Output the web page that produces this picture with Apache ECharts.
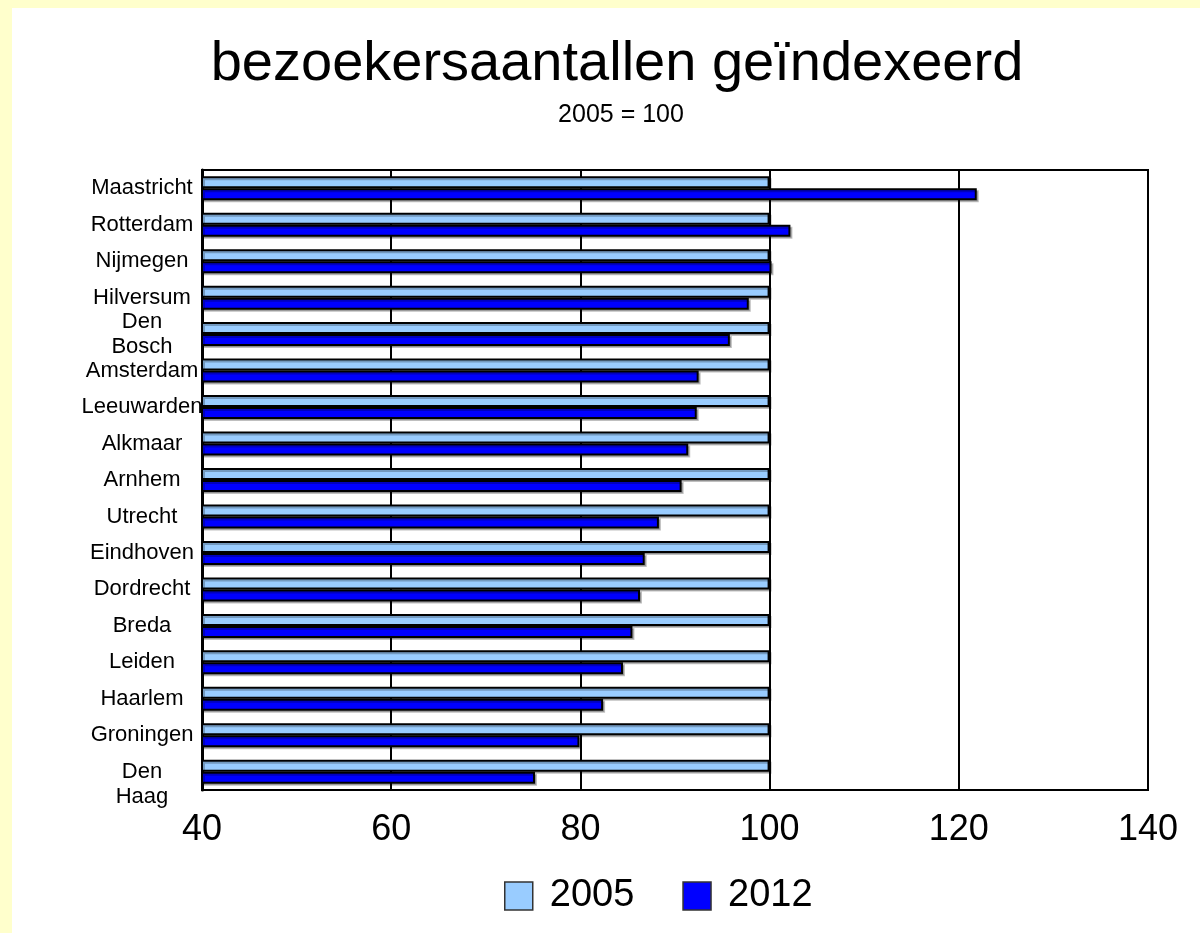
<!DOCTYPE html>
<html>
<head>
<meta charset="utf-8">
<script src="https://cdn.jsdelivr.net/npm/echarts@6/dist/echarts.min.js"></script>
<style>
  html, body { margin: 0; padding: 0; background: #FFFFCC; }
  #chart { position: absolute; left: 12px; top: 8px; width: 1188px; height: 925px; background: #fff; }
</style>
</head>
<body>
<div id="chart"></div>
<script>
// cities, top to bottom
const cities = ['Maastricht', 'Rotterdam', 'Nijmegen', 'Hilversum', 'Den\nBosch', 'Amsterdam', 'Leeuwarden',
  'Alkmaar', 'Arnhem', 'Utrecht', 'Eindhoven', 'Dordrecht', 'Breda', 'Leiden', 'Haarlem', 'Groningen', 'Den\nHaag']
const index2005 = [100, 100, 100, 100, 100, 100, 100, 100, 100, 100, 100, 100, 100, 100, 100, 100, 100]
const index2012 = [121.9, 102.2, 100.2, 97.8, 95.8, 92.5, 92.3, 91.4, 90.7, 88.3, 86.8, 86.3, 85.5, 84.5, 82.4, 79.9, 75.2]
const xTicks = [40, 60, 80, 100, 120, 140]

const font = 'Arial, "Liberation Sans", sans-serif'
const chart = echarts.init(document.getElementById('chart'))

const barStyle = (color) => ({
  color, borderColor: '#000', borderWidth: 2,
  shadowColor: 'rgba(0,0,0,0.25)', shadowOffsetX: 2, shadowOffsetY: 2, shadowBlur: 0
})

chart.setOption({
  animation: false,
  textStyle: { fontFamily: font },
  title: [
    { text: 'bezoekersaantallen geïndexeerd', left: 600, textAlign: 'center', top: 24,
      textStyle: { fontSize: 56, fontWeight: 'normal', color: '#000', fontFamily: font } },
    { text: '2005 = 100', left: 604, textAlign: 'center', top: 90,
      textStyle: { fontSize: 25, fontWeight: 'normal', color: '#000', fontFamily: font } }
  ],
  legend: {
    data: ['2005', '2012'], left: 487, top: 864, itemWidth: 28, itemHeight: 28, itemGap: 48,
    icon: 'rect', textStyle: { fontSize: 38, color: '#000', fontFamily: font, padding: [0, 0, 0, 12] },
    itemStyle: { borderColor: '#333', borderWidth: 1.5, shadowBlur: 0, shadowOffsetX: 0, shadowOffsetY: 0 }
  },
  grid: { left: 190, right: 52, top: 162, bottom: 143, show: true, borderColor: '#000', borderWidth: 2, backgroundColor: '#fff' },
  xAxis: {
    type: 'value', min: xTicks[0], max: xTicks[xTicks.length - 1], interval: 20,
    axisLine: { show: true, lineStyle: { color: '#000', width: 2 } },
    axisTick: { show: false },
    axisLabel: { color: '#000', fontSize: 36, margin: 22, fontFamily: font },
    splitLine: { show: true, lineStyle: { color: '#000', width: 2 } }
  },
  yAxis: {
    type: 'category', data: cities, inverse: true,
    axisLine: { show: true, lineStyle: { color: '#000', width: 3 } },
    axisTick: { show: false },
    axisLabel: {
      interval: 0, color: '#000', fontSize: 22, lineHeight: 25, align: 'center', margin: 60, fontFamily: font,
      // the last label hangs below its row in the original
      formatter: (v, i) => i === cities.length - 1 ? '\n' + v : v
    }
  },
  series: [
    { name: '2005', type: 'bar', data: index2005, barWidth: 12, barGap: '0%', itemStyle: barStyle('#99CCFF') },
    { name: '2012', type: 'bar', data: index2012, barWidth: 12, barGap: '0%', itemStyle: barStyle('#0000FF') }
  ]
})
</script>
</body>
</html>
